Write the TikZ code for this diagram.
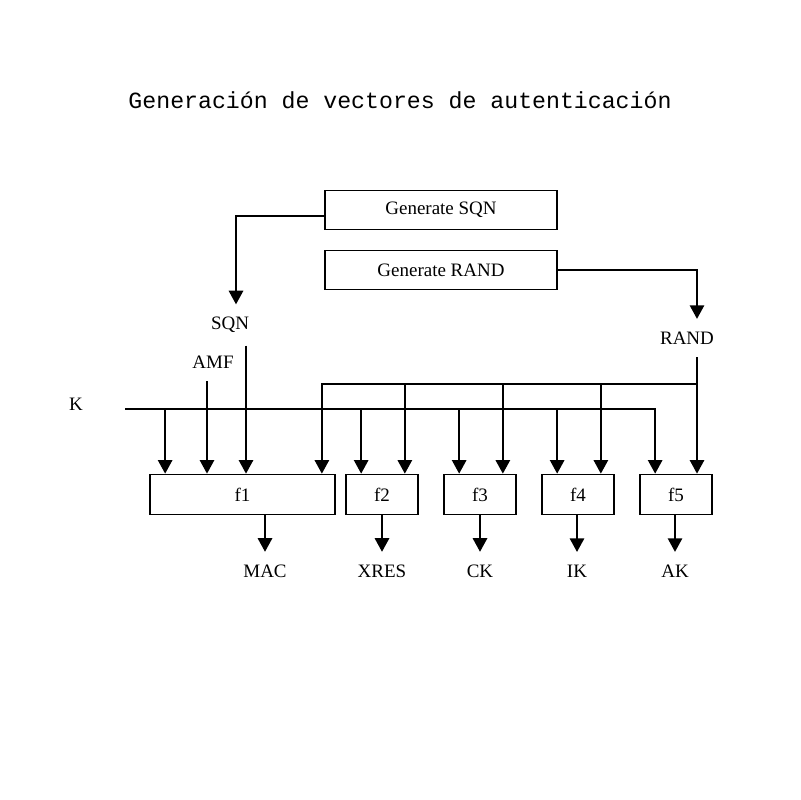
\documentclass[tikz,border=0pt]{standalone}
\usepackage{fontspec}
\setmainfont{Liberation Serif}
\newfontfamily\titlefont{Liberation Mono}
\usetikzlibrary{arrows.meta}
\begin{document}
\begin{tikzpicture}[x=.025cm,y=-.025cm,>={Triangle[length=.34cm,width=.36cm]},
    line width=1.2pt,font=\fontsize{13.5}{16}\selectfont,
    blk/.style={draw,minimum height=1cm,inner sep=0pt},
    lbl/.style={inner sep=.3cm}]
    \useasboundingbox (0,0) rectangle (800,800);
    \node (title) at (400,100) {\titlefont\fontsize{16.5}{20}\selectfont Generación de vectores de autenticación};
    % generadores
    \node[blk,minimum width=5.8cm,minimum height=.975cm] (gsqn) at (441,210) {Generate SQN};
    \node[blk,minimum width=5.8cm,minimum height=.975cm] (grand) at (441,270) {Generate RAND};
    % entradas
    \node[lbl] (sqn) at (230,325) {SQN};
    \node[lbl] (amf) at (213,362) {AMF};
    \node[lbl] (rand) at (687,338) {RAND};
    \node[lbl] (k) at (76,404) {K};
    \coordinate (kin) at (125,409);
    \coordinate (rb) at (697,384);
    % funciones f1..f5
    \node[blk,minimum width=4.625cm] (f1) at (242.5,494.5) {f1};
    \foreach \i/\x in {2/382,3/480,4/578,5/676}
        \node[blk,minimum width=1.8cm] (f\i) at (\x,494.5) {f\i};
    % salidas
    \foreach \n/\t/\x in {mac/MAC/265,xres/XRES/382,ck/CK/480,ik/IK/577,ak/AK/675}
        \node[lbl] (\n) at (\x,571) {\t};
    % conexiones
    \draw[->] ([yshift=-.15cm]gsqn.west) -| ([xshift=.15cm]sqn.north);
    \draw[->] (grand.east) -| ([xshift=.25cm]rand.north);
    \draw[->] ([xshift=.4cm]sqn.south) -- ([xshift=.4cm]sqn.south |- f1.north);
    \draw[->] ([xshift=-.15cm]amf.south) -- ([xshift=-.15cm]amf.south |- f1.north);
    \draw[->] ([xshift=.25cm]rand.south) -- ([xshift=.25cm]rand.south |- f5.north);
    \draw[->] (kin) -| ([xshift=.4cm]f5.north west);
    \draw[->] (rb) -| ([xshift=-.35cm]f1.north east);
    \foreach \f in {f1,f2,f3,f4}
        \draw[->] ([xshift=.4cm]\f.north west |- kin) -- ([xshift=.4cm]\f.north west);
    \foreach \f in {f2,f3,f4}
        \draw[->] ([xshift=-.35cm]\f.north east |- rb) -- ([xshift=-.35cm]\f.north east);
    \foreach \f/\o in {f1/mac,f2/xres,f3/ck,f4/ik,f5/ak}
        \draw[->] (\o.north |- \f.south) -- (\o.north);
\end{tikzpicture}
\end{document}
